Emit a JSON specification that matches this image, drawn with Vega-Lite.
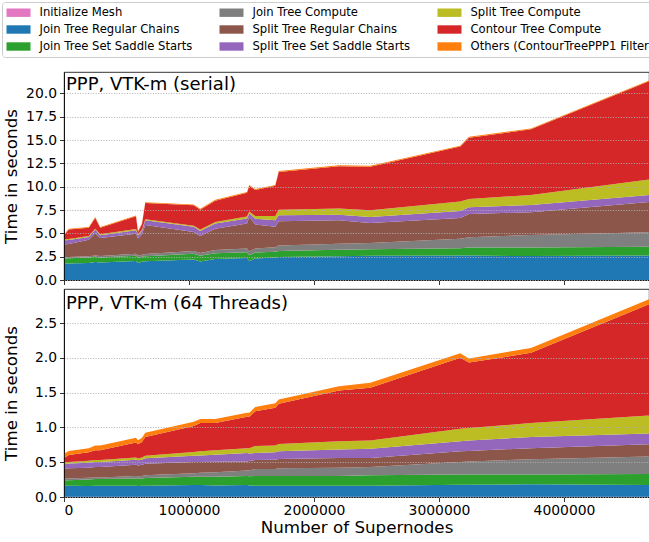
{
  "$schema": "https://vega.github.io/schema/vega-lite/v6.json",
  "padding": {"left": 1, "top": 1, "right": 0, "bottom": 0},
  "background": "white",
  "spacing": 0,
  "config": {
    "font": "DejaVu Sans",
    "view": {"stroke": "#000", "strokeWidth": 0.8},
    "axis": {
      "labelFont": "DejaVu Sans", "titleFont": "DejaVu Sans",
      "labelColor": "#000", "titleColor": "#000",
      "labelFontSize": 13.9, "titleFontSize": 16.7, "titleFontWeight": "normal",
      "tickColor": "#000", "domainColor": "#000", "tickSize": 4.5, "tickWidth": 0.8, "domainWidth": 0.8,
      "labelPadding": 3, "labelOverlap": false,
      "gridColor": "#b0b0b0", "gridDash": [1, 1.6], "gridWidth": 1
    }
  },
  "datasets": {
    "tasks": [
      {"key": "im", "task": "Initialize Mesh", "k": 0},
      {"key": "jtrc", "task": "Join Tree Regular Chains", "k": 1},
      {"key": "jtsss", "task": "Join Tree Set Saddle Starts", "k": 2},
      {"key": "jtc", "task": "Join Tree Compute", "k": 3},
      {"key": "strc", "task": "Split Tree Regular Chains", "k": 4},
      {"key": "stsss", "task": "Split Tree Set Saddle Starts", "k": 5},
      {"key": "stc", "task": "Split Tree Compute", "k": 6},
      {"key": "ctc", "task": "Contour Tree Compute", "k": 7},
      {"key": "oth", "task": "Others (ContourTreePPP1 Filter)", "k": 8}
    ],
    "serial": [
      {"n": 0, "im": 0.005, "jtrc": 1.76, "jtsss": 0.53, "jtc": 0.12, "strc": 1.39, "stsss": 0.45, "stc": 0.11, "ctc": 0.43, "oth": 0.09},
      {"n": 38000, "im": 0.005, "jtrc": 1.76, "jtsss": 0.57, "jtc": 0.12, "strc": 1.40, "stsss": 0.43, "stc": 0.10, "ctc": 1.02, "oth": 0.09},
      {"n": 198000, "im": 0.005, "jtrc": 1.83, "jtsss": 0.57, "jtc": 0.14, "strc": 1.76, "stsss": 0.30, "stc": 0.10, "ctc": 0.90, "oth": 0.09},
      {"n": 250000, "im": 0.005, "jtrc": 1.93, "jtsss": 0.55, "jtc": 0.15, "strc": 2.37, "stsss": 0.40, "stc": 0.10, "ctc": 1.15, "oth": 0.09},
      {"n": 290000, "im": 0.005, "jtrc": 1.86, "jtsss": 0.56, "jtc": 0.15, "strc": 1.93, "stsss": 0.30, "stc": 0.10, "ctc": 0.70, "oth": 0.09},
      {"n": 576000, "im": 0.005, "jtrc": 2.04, "jtsss": 0.56, "jtc": 0.20, "strc": 2.15, "stsss": 0.38, "stc": 0.12, "ctc": 1.38, "oth": 0.09},
      {"n": 592000, "im": 0.005, "jtrc": 1.83, "jtsss": 0.57, "jtc": 0.20, "strc": 1.85, "stsss": 0.34, "stc": 0.11, "ctc": 0.25, "oth": 0.09},
      {"n": 624000, "im": 0.005, "jtrc": 1.95, "jtsss": 0.55, "jtc": 0.20, "strc": 2.20, "stsss": 0.40, "stc": 0.10, "ctc": 0.60, "oth": 0.09},
      {"n": 650000, "im": 0.005, "jtrc": 2.00, "jtsss": 0.55, "jtc": 0.22, "strc": 3.13, "stsss": 0.50, "stc": 0.12, "ctc": 1.73, "oth": 0.09},
      {"n": 1038000, "im": 0.005, "jtrc": 2.18, "jtsss": 0.62, "jtc": 0.30, "strc": 2.05, "stsss": 0.55, "stc": 0.10, "ctc": 2.20, "oth": 0.09},
      {"n": 1090000, "im": 0.005, "jtrc": 1.98, "jtsss": 0.62, "jtc": 0.30, "strc": 1.82, "stsss": 0.53, "stc": 0.15, "ctc": 2.14, "oth": 0.09},
      {"n": 1210000, "im": 0.005, "jtrc": 2.25, "jtsss": 0.62, "jtc": 0.33, "strc": 2.30, "stsss": 0.55, "stc": 0.15, "ctc": 2.30, "oth": 0.09},
      {"n": 1464000, "im": 0.005, "jtrc": 2.36, "jtsss": 0.62, "jtc": 0.40, "strc": 2.66, "stsss": 0.56, "stc": 0.20, "ctc": 2.54, "oth": 0.09},
      {"n": 1482000, "im": 0.005, "jtrc": 2.00, "jtsss": 0.65, "jtc": 0.40, "strc": 3.70, "stsss": 0.40, "stc": 0.20, "ctc": 2.75, "oth": 0.09},
      {"n": 1530000, "im": 0.005, "jtrc": 2.30, "jtsss": 0.63, "jtc": 0.45, "strc": 2.57, "stsss": 0.60, "stc": 0.30, "ctc": 2.80, "oth": 0.09},
      {"n": 1690000, "im": 0.005, "jtrc": 2.40, "jtsss": 0.62, "jtc": 0.48, "strc": 2.20, "stsss": 0.70, "stc": 0.45, "ctc": 3.25, "oth": 0.09},
      {"n": 1718000, "im": 0.005, "jtrc": 2.47, "jtsss": 0.63, "jtc": 0.60, "strc": 2.60, "stsss": 0.63, "stc": 0.60, "ctc": 4.05, "oth": 0.09},
      {"n": 2200000, "im": 0.005, "jtrc": 2.54, "jtsss": 0.70, "jtc": 0.64, "strc": 2.52, "stsss": 0.60, "stc": 0.65, "ctc": 4.55, "oth": 0.09},
      {"n": 2450000, "im": 0.005, "jtrc": 2.60, "jtsss": 0.70, "jtc": 0.67, "strc": 2.13, "stsss": 0.65, "stc": 0.72, "ctc": 4.68, "oth": 0.09},
      {"n": 3170000, "im": 0.005, "jtrc": 2.61, "jtsss": 0.80, "jtc": 1.00, "strc": 2.24, "stsss": 0.75, "stc": 1.00, "ctc": 5.90, "oth": 0.09},
      {"n": 3240000, "im": 0.005, "jtrc": 2.61, "jtsss": 0.86, "jtc": 1.10, "strc": 2.50, "stsss": 0.72, "stc": 0.89, "ctc": 6.57, "oth": 0.09},
      {"n": 3736000, "im": 0.005, "jtrc": 2.56, "jtsss": 0.91, "jtc": 1.36, "strc": 2.43, "stsss": 0.78, "stc": 1.07, "ctc": 7.04, "oth": 0.09},
      {"n": 4680000, "im": 0.005, "jtrc": 2.61, "jtsss": 0.94, "jtc": 1.57, "strc": 3.23, "stsss": 0.77, "stc": 1.66, "ctc": 10.52, "oth": 0.09}
    ],
    "threads": [
      {"n": 0, "im": 0.002, "jtrc": 0.16, "jtsss": 0.08, "jtc": 0.02, "strc": 0.14, "stsss": 0.07, "stc": 0.02, "ctc": 0.07, "oth": 0.06},
      {"n": 38000, "im": 0.002, "jtrc": 0.16, "jtsss": 0.08, "jtc": 0.025, "strc": 0.145, "stsss": 0.07, "stc": 0.02, "ctc": 0.10, "oth": 0.06},
      {"n": 198000, "im": 0.002, "jtrc": 0.155, "jtsss": 0.095, "jtc": 0.025, "strc": 0.145, "stsss": 0.07, "stc": 0.03, "ctc": 0.12, "oth": 0.06},
      {"n": 250000, "im": 0.002, "jtrc": 0.16, "jtsss": 0.095, "jtc": 0.025, "strc": 0.15, "stsss": 0.07, "stc": 0.03, "ctc": 0.14, "oth": 0.07},
      {"n": 290000, "im": 0.002, "jtrc": 0.16, "jtsss": 0.095, "jtc": 0.025, "strc": 0.15, "stsss": 0.07, "stc": 0.03, "ctc": 0.14, "oth": 0.07},
      {"n": 576000, "im": 0.002, "jtrc": 0.16, "jtsss": 0.105, "jtc": 0.035, "strc": 0.16, "stsss": 0.075, "stc": 0.03, "ctc": 0.215, "oth": 0.07},
      {"n": 592000, "im": 0.002, "jtrc": 0.155, "jtsss": 0.105, "jtc": 0.035, "strc": 0.155, "stsss": 0.075, "stc": 0.025, "ctc": 0.205, "oth": 0.06},
      {"n": 624000, "im": 0.002, "jtrc": 0.16, "jtsss": 0.105, "jtc": 0.035, "strc": 0.16, "stsss": 0.075, "stc": 0.03, "ctc": 0.225, "oth": 0.06},
      {"n": 650000, "im": 0.002, "jtrc": 0.16, "jtsss": 0.11, "jtc": 0.04, "strc": 0.165, "stsss": 0.08, "stc": 0.035, "ctc": 0.27, "oth": 0.06},
      {"n": 1038000, "im": 0.002, "jtrc": 0.17, "jtsss": 0.12, "jtc": 0.05, "strc": 0.16, "stsss": 0.09, "stc": 0.055, "ctc": 0.375, "oth": 0.06},
      {"n": 1090000, "im": 0.002, "jtrc": 0.17, "jtsss": 0.12, "jtc": 0.055, "strc": 0.155, "stsss": 0.095, "stc": 0.06, "ctc": 0.405, "oth": 0.06},
      {"n": 1210000, "im": 0.002, "jtrc": 0.165, "jtsss": 0.125, "jtc": 0.065, "strc": 0.15, "stsss": 0.10, "stc": 0.065, "ctc": 0.39, "oth": 0.06},
      {"n": 1464000, "im": 0.002, "jtrc": 0.17, "jtsss": 0.13, "jtc": 0.08, "strc": 0.13, "stsss": 0.12, "stc": 0.07, "ctc": 0.45, "oth": 0.06},
      {"n": 1482000, "im": 0.002, "jtrc": 0.165, "jtsss": 0.13, "jtc": 0.085, "strc": 0.135, "stsss": 0.11, "stc": 0.075, "ctc": 0.45, "oth": 0.06},
      {"n": 1530000, "im": 0.002, "jtrc": 0.16, "jtsss": 0.14, "jtc": 0.10, "strc": 0.13, "stsss": 0.10, "stc": 0.10, "ctc": 0.50, "oth": 0.06},
      {"n": 1690000, "im": 0.002, "jtrc": 0.16, "jtsss": 0.14, "jtc": 0.10, "strc": 0.135, "stsss": 0.105, "stc": 0.10, "ctc": 0.54, "oth": 0.065},
      {"n": 1718000, "im": 0.002, "jtrc": 0.16, "jtsss": 0.14, "jtc": 0.11, "strc": 0.135, "stsss": 0.11, "stc": 0.105, "ctc": 0.58, "oth": 0.06},
      {"n": 2200000, "im": 0.002, "jtrc": 0.16, "jtsss": 0.14, "jtc": 0.12, "strc": 0.14, "stsss": 0.12, "stc": 0.12, "ctc": 0.73, "oth": 0.06},
      {"n": 2450000, "im": 0.002, "jtrc": 0.16, "jtsss": 0.15, "jtc": 0.12, "strc": 0.13, "stsss": 0.13, "stc": 0.12, "ctc": 0.76, "oth": 0.07},
      {"n": 3170000, "im": 0.002, "jtrc": 0.175, "jtsss": 0.145, "jtc": 0.18, "strc": 0.155, "stsss": 0.145, "stc": 0.18, "ctc": 1.02, "oth": 0.065},
      {"n": 3240000, "im": 0.002, "jtrc": 0.175, "jtsss": 0.145, "jtc": 0.19, "strc": 0.15, "stsss": 0.15, "stc": 0.18, "ctc": 0.94, "oth": 0.06},
      {"n": 3736000, "im": 0.002, "jtrc": 0.18, "jtsss": 0.14, "jtc": 0.22, "strc": 0.16, "stsss": 0.16, "stc": 0.20, "ctc": 1.01, "oth": 0.07},
      {"n": 4680000, "im": 0.002, "jtrc": 0.17, "jtsss": 0.16, "jtc": 0.25, "strc": 0.175, "stsss": 0.155, "stc": 0.26, "ctc": 1.60, "oth": 0.07}
    ]
  },
  "vconcat": [
    {
      "width": 585, "height": 208,
      "layer": [
        {
          "data": {"name": "serial"},
          "transform": [
            {"fold": ["im", "jtrc", "jtsss", "jtc", "strc", "stsss", "stc", "ctc", "oth"], "as": ["key", "v"]},
            {"lookup": "key", "from": {"data": {"name": "tasks"}, "key": "key", "fields": ["task", "k"]}}
          ],
          "mark": {"type": "area", "opacity": 1, "interpolate": "linear"},
          "encoding": {
            "x": {"field": "n", "type": "quantitative", "scale": {"domain": [0, 4680000], "nice": false},
                  "axis": {"values": [0, 1000000, 2000000, 3000000, 4000000], "labels": false, "title": null, "grid": false}},
            "y": {"field": "v", "type": "quantitative", "stack": "zero", "scale": {"domain": [0, 22.3], "nice": false},
                  "axis": {"values": [0, 2.5, 5, 7.5, 10, 12.5, 15, 17.5, 20], "format": ".1f", "title": "Time in seconds", "grid": true, "zindex": 1, "titleX": -48, "titleBaseline": "alphabetic", "labelOverlap": false}},
            "color": {"field": "task", "type": "nominal",
              "scale": {"domain": ["Initialize Mesh", "Join Tree Compute", "Split Tree Compute", "Join Tree Regular Chains", "Split Tree Regular Chains", "Contour Tree Compute", "Join Tree Set Saddle Starts", "Split Tree Set Saddle Starts", "Others (ContourTreePPP1 Filter)"],
                        "range": ["#e377c2", "#7f7f7f", "#bcbd22", "#1f77b4", "#8c564b", "#d62728", "#2ca02c", "#9467bd", "#ff7f0e"]},
              "legend": {"orient": "none", "legendX": -62, "legendY": -70, "columns": 3, "direction": "horizontal", "title": null,
                         "symbolType": "M-1,-0.7H3V0.7H-1Z", "symbolSize": 144, "symbolStrokeWidth": 0, "symbolOpacity": 1,
                         "labelFontSize": 11.6, "labelFont": "DejaVu Sans", "labelColor": "#000", "labelOffset": 21, "labelLimit": 400,
                         "columnPadding": 27, "rowPadding": 5, "padding": 4.5,
                         "strokeColor": "#cccccc", "fillColor": "white", "cornerRadius": 3}},
            "order": {"field": "k", "type": "quantitative", "sort": "ascending"}
          }
        },
        {
          "data": {"values": [{"label": "PPP, VTK-m (serial)"}]},
          "mark": {"type": "text", "align": "left", "baseline": "alphabetic", "dx": 2, "dy": 17.5, "fontSize": 18, "font": "DejaVu Sans", "color": "#000"},
          "encoding": {
            "x": {"datum": 0, "type": "quantitative",
                  "axis": {"values": [0, 1000000, 2000000, 3000000, 4000000], "labels": false, "title": null, "grid": false}},
            "y": {"datum": 22.3, "type": "quantitative",
                  "axis": {"values": [0, 2.5, 5, 7.5, 10, 12.5, 15, 17.5, 20], "format": ".1f", "title": "Time in seconds", "grid": true, "zindex": 1, "titleX": -48, "titleBaseline": "alphabetic", "labelOverlap": false}},
            "text": {"field": "label", "type": "nominal"}
          }
        }
      ]
    },
    {
      "width": 585, "height": 208,
      "layer": [
        {
          "data": {"name": "threads"},
          "transform": [
            {"fold": ["im", "jtrc", "jtsss", "jtc", "strc", "stsss", "stc", "ctc", "oth"], "as": ["key", "v"]},
            {"lookup": "key", "from": {"data": {"name": "tasks"}, "key": "key", "fields": ["task", "k"]}}
          ],
          "mark": {"type": "area", "opacity": 1, "interpolate": "linear"},
          "encoding": {
            "x": {"field": "n", "type": "quantitative", "scale": {"domain": [0, 4680000], "nice": false},
                  "axis": {"values": [0, 1000000, 2000000, 3000000, 4000000], "format": "d", "title": "Number of Supernodes", "grid": false, "titlePadding": 2, "labelPadding": 2}},
            "y": {"field": "v", "type": "quantitative", "stack": "zero", "scale": {"domain": [0, 2.99], "nice": false},
                  "axis": {"values": [0, 0.5, 1, 1.5, 2, 2.5], "format": ".1f", "title": "Time in seconds", "grid": true, "zindex": 1, "titleX": -48, "titleBaseline": "alphabetic", "labelOverlap": false}},
            "color": {"field": "task", "type": "nominal",
              "scale": {"domain": ["Initialize Mesh", "Join Tree Compute", "Split Tree Compute", "Join Tree Regular Chains", "Split Tree Regular Chains", "Contour Tree Compute", "Join Tree Set Saddle Starts", "Split Tree Set Saddle Starts", "Others (ContourTreePPP1 Filter)"],
                        "range": ["#e377c2", "#7f7f7f", "#bcbd22", "#1f77b4", "#8c564b", "#d62728", "#2ca02c", "#9467bd", "#ff7f0e"]},
              "legend": {"orient": "none", "legendX": -62, "legendY": -70, "columns": 3, "direction": "horizontal", "title": null,
                         "symbolType": "M-1,-0.7H3V0.7H-1Z", "symbolSize": 144, "symbolStrokeWidth": 0, "symbolOpacity": 1,
                         "labelFontSize": 11.6, "labelFont": "DejaVu Sans", "labelColor": "#000", "labelOffset": 21, "labelLimit": 400,
                         "columnPadding": 27, "rowPadding": 5, "padding": 4.5,
                         "strokeColor": "#cccccc", "fillColor": "white", "cornerRadius": 3}},
            "order": {"field": "k", "type": "quantitative", "sort": "ascending"}
          }
        },
        {
          "data": {"values": [{"label": "PPP, VTK-m (64 Threads)"}]},
          "mark": {"type": "text", "align": "left", "baseline": "alphabetic", "dx": 2, "dy": 20, "fontSize": 18, "font": "DejaVu Sans", "color": "#000"},
          "encoding": {
            "x": {"datum": 0, "type": "quantitative",
                  "axis": {"values": [0, 1000000, 2000000, 3000000, 4000000], "format": "d", "title": "Number of Supernodes", "grid": false, "titlePadding": 2, "labelPadding": 2}},
            "y": {"datum": 2.99, "type": "quantitative",
                  "axis": {"values": [0, 0.5, 1, 1.5, 2, 2.5], "format": ".1f", "title": "Time in seconds", "grid": true, "zindex": 1, "titleX": -48, "titleBaseline": "alphabetic", "labelOverlap": false}},
            "text": {"field": "label", "type": "nominal"}
          }
        }
      ]
    }
  ]
}
